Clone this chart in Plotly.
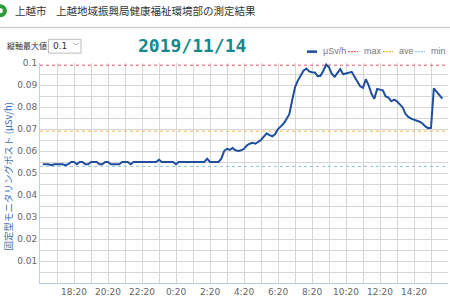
import pandas as pd
import plotly.graph_objects as go

# ---- data ----
start_time = "2019-11-13 16:30"
usv_h = [
    0.054, 0.054, 0.054, 0.0535, 0.054, 0.054, 0.054, 0.054, 0.0535, 0.054,
    0.055, 0.055, 0.054, 0.055, 0.055, 0.054, 0.054, 0.055, 0.055, 0.055,
    0.054, 0.054, 0.055, 0.055, 0.054, 0.054, 0.054, 0.054, 0.055, 0.055,
    0.055, 0.054, 0.055, 0.055, 0.055, 0.055, 0.055, 0.055, 0.055, 0.055,
    0.055, 0.056, 0.055, 0.055, 0.055, 0.055, 0.055, 0.054, 0.055, 0.055,
    0.055, 0.055, 0.055, 0.055, 0.055, 0.055, 0.055, 0.055, 0.0565, 0.055,
    0.055, 0.055, 0.055, 0.0565, 0.060, 0.061, 0.0605, 0.0614, 0.0603, 0.060,
    0.0603, 0.061, 0.0625, 0.0633, 0.0637, 0.0633, 0.064, 0.065, 0.0665, 0.068,
    0.0672, 0.0667, 0.0677, 0.070, 0.0712, 0.0725, 0.0745, 0.0767, 0.083, 0.089,
    0.092, 0.094, 0.0965, 0.0975, 0.0962, 0.0958, 0.0957, 0.094, 0.0942, 0.0965,
    0.0993, 0.098, 0.095, 0.0938, 0.0958, 0.0972, 0.0949, 0.0952, 0.0955, 0.096,
    0.0938, 0.0916, 0.0894, 0.0887, 0.0926, 0.0898, 0.086, 0.0838, 0.0882, 0.0879,
    0.0876, 0.0848, 0.0843, 0.0826, 0.0833, 0.0826, 0.0813, 0.0798, 0.0768, 0.0755,
    0.0747, 0.0743, 0.074, 0.0733, 0.0725, 0.0712, 0.0704, 0.0705, 0.0885, 0.0868,
    0.0852, 0.0838,
]
max_val = 0.099
ave_val = 0.069
min_val = 0.053
x_range = ["2019-11-13 16:20", "2019-11-14 16:20"]
x_tick_start = "2019-11-13 18:20"
x_tick_count = 11
y_tickvals = [0.01, 0.02, 0.03, 0.04, 0.05, 0.06, 0.07, 0.08, 0.09, 0.1]
y_ticktext = ["0.01", "0.02", "0.03", "0.04", "0.05", "0.06", "0.07", "0.08", "0.09", "0.1"]
legend_names = ["μSv/h", "max", "ave", "min"]

times = pd.date_range(start_time, periods=len(usv_h), freq="10min")
x_tickvals = pd.date_range(x_tick_start, periods=x_tick_count, freq="2h")
x_ticktext = [f"{t.hour}:{t.minute:02d}" for t in x_tickvals]

W, H = 450, 299
L, R, T, B = 40, 2, 63, 13
PW, PH = W - L - R, H - T - B


def px(x):
    return (x - L) / PW


def py(y):
    return (H - B - y) / PH


C_MAIN = "#1f4e9e"
C_MAX = "#e8566c"
C_AVE = "#f2b640"
C_MIN = "#8cc4e6"

fig = go.Figure()
for val, col in [(max_val, C_MAX), (ave_val, C_AVE), (min_val, C_MIN)]:
    fig.add_trace(go.Scatter(x=x_range, y=[val, val], mode="lines",
                             line=dict(color=col, width=1, dash="dot"),
                             hoverinfo="skip", showlegend=False))
fig.add_trace(go.Scatter(x=times, y=usv_h, mode="lines",
                         line=dict(color=C_MAIN, width=2), showlegend=False))

grid = "#d6d6d6"
fig.update_xaxes(
    type="date", range=x_range, tickvals=x_tickvals, ticktext=x_ticktext,
    showgrid=True, gridcolor=grid, gridwidth=1,
    minor=dict(dtick=3600000, tick0="2019-11-13 16:20", showgrid=True,
               gridcolor=grid, gridwidth=1),
    showline=True, linecolor="#b7cce4", linewidth=1, zeroline=False,
    tickfont=dict(family="DejaVu Sans", size=9, color="#666666"), ticks="",
)
fig.update_yaxes(
    range=[0, 0.1], tickvals=y_tickvals, ticktext=y_ticktext,
    showgrid=True, gridcolor=grid, gridwidth=1,
    minor=dict(dtick=0.005, tick0=0, showgrid=True, gridcolor=grid, gridwidth=1),
    showline=True, linecolor="#c2d0e0", linewidth=1, zeroline=False,
    tickfont=dict(family="DejaVu Sans", size=9, color="#666666"), ticks="",
)

ann = []
shapes = []
# header
shapes.append(dict(type="circle", xref="paper", yref="paper",
                   x0=px(-6), x1=px(7), y0=py(16.5), y1=py(3.5),
                   fillcolor="#2e9a3c", line=dict(width=0)))
shapes.append(dict(type="circle", xref="paper", yref="paper",
                   x0=px(-2), x1=px(3), y0=py(12.5), y1=py(7.5),
                   fillcolor="white", line=dict(width=0)))
ann.append(dict(text="上越市", x=px(12.5), y=py(10), xanchor="left", yanchor="middle",
                font=dict(family="Noto Sans CJK JP", size=10.5, color="#333333")))
ann.append(dict(text="上越地域振興局健康福祉環境部の測定結果", x=px(54), y=py(10),
                xanchor="left", yanchor="middle",
                font=dict(family="Noto Sans CJK JP", size=10.5, color="#333333")))
shapes.append(dict(type="line", xref="paper", yref="paper", x0=px(0), x1=px(450),
                   y0=py(27), y1=py(27), line=dict(color="#d0d0d0", width=1.5)))
# controls
ann.append(dict(text="縦軸最大値", x=px(4.5), y=py(45.5), xanchor="left", yanchor="middle",
                font=dict(family="Noto Sans CJK JP", size=8, color="#333333")))
shapes.append(dict(type="rect", xref="paper", yref="paper", x0=px(48.5), x1=px(81),
                   y0=py(53), y1=py(39), line=dict(color="#bdbdbd", width=1),
                   fillcolor="white"))
ann.append(dict(text="0.1", x=px(51), y=py(46), xanchor="left", yanchor="middle",
                font=dict(family="DejaVu Sans", size=9, color="#333333")))
ann.append(dict(text="﹀", x=px(76), y=py(45.5), xanchor="center", yanchor="middle",
                font=dict(family="Noto Sans CJK JP", size=6, color="#888888")))
# title
ann.append(dict(text="<b>2019/11/14</b>", x=px(192), y=py(45.5), xanchor="center",
                yanchor="middle",
                font=dict(family="DejaVu Sans Mono", size=18, color="#17898c")))
# legend
leg = [(307, 320.5, C_MAIN, "solid", 2.5), (348, 362, C_MAX, "2px,1px", 1.3),
       (383, 396.5, C_AVE, "2px,1px", 1.3), (415, 429, C_MIN, "2px,1px", 1.3)]
for (lx, tx, col, dash, w), name in zip(leg, legend_names):
    shapes.append(dict(type="line", xref="paper", yref="paper", x0=px(lx), x1=px(lx + 10),
                       y0=py(51.5), y1=py(51.5), line=dict(color=col, width=w, dash=dash)))
    ann.append(dict(text=name, x=px(tx), y=py(51), xanchor="left", yanchor="middle",
                    font=dict(family="Liberation Sans", size=9, color="#777777")))
# y title
ann.append(dict(text="固定型モニタリングポスト (μSv/h)", x=px(8), y=py(178),
                xanchor="center", yanchor="middle", textangle=-90,
                font=dict(family="Noto Sans CJK JP", size=9.5, color="#3c72b4")))

for a in ann:
    a.update(xref="paper", yref="paper", showarrow=False)

fig.update_layout(
    width=W, height=H, margin=dict(l=L, r=R, t=T, b=B),
    paper_bgcolor="white", plot_bgcolor="white",
    annotations=ann, shapes=shapes, showlegend=False,
)
fig.write_html("out.html")
